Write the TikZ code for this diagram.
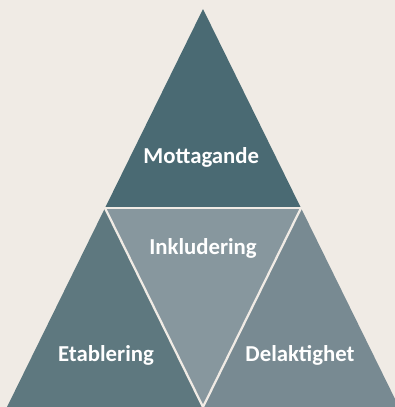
\documentclass[tikz,border=0pt]{standalone}
\usepackage{fontspec}
\setmainfont{Carlito}
\usepackage{tikz}
\usepackage{tkz-euclide}
\usetikzlibrary{calc}
\definecolor{bgpaper}{RGB}{240,235,229}
\definecolor{topteal}{RGB}{74,106,115}
\definecolor{leftteal}{RGB}{94,120,127}
\definecolor{midteal}{RGB}{135,151,158}
\definecolor{rightteal}{RGB}{120,138,146}

\begin{document}
\begin{tikzpicture}[scale=1,
    part/.style={font=\bfseries\fontsize{16.2}{18}\selectfont,text=white},
    gapline/.style={color=bgpaper,line width=1.6pt}]
            \useasboundingbox (0,0) rectangle (9.875,10.175);
            \fill[bgpaper] (0,0) rectangle (9.875,10.175);
            \clip (0,0) rectangle (9.875,10.175);
            \tkzDefPoint(5.075,9.95){A}
            \tkzDefPoint(0.175,0){L}
            \tkzDefPoint(9.975,0){R}
            \tkzDefMidPoint(A,L) \tkzGetPoint{P}
            \tkzDefMidPoint(A,R) \tkzGetPoint{Q}
            \tkzDefMidPoint(L,R) \tkzGetPoint{M}
            \tkzFillPolygon[color=topteal](A,P,Q)
            \tkzFillPolygon[color=leftteal](P,L,M)
            \tkzFillPolygon[color=rightteal](Q,M,R)
            \tkzFillPolygon[color=midteal](P,Q,M)
            %\tkzDrawPoints(A,L,R,P,Q,M)
            \tkzDrawSegments[gapline](P,Q Q,M M,P)
            \node[part] (mott) at (5.03,6.25) {Mottagande};
            \node[part] (inkl) at (5.075,3.97) {Inkludering};
            \node[part] (etab) at (2.65,1.3) {Etablering};
            \node[part] (dela) at (7.5,1.3) {Delaktighet};
            \end{tikzpicture}
\end{document}
